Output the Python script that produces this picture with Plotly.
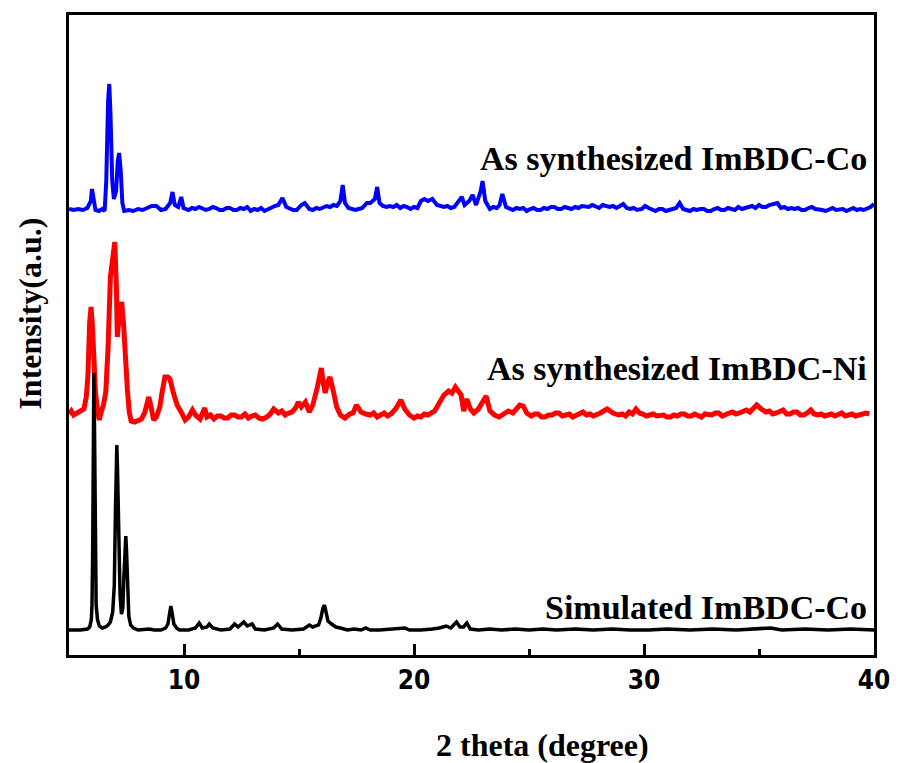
import plotly.graph_objects as go

# 2 theta (degree) sample points and intensities (a.u.) for each pattern
co_2theta = [5.0, 5.2, 5.4, 5.6, 5.8, 5.95, 6.0, 6.08, 6.15, 6.3, 6.45, 6.55, 6.62, 6.7, 6.75, 6.8,
             6.88, 6.95, 7.05, 7.12, 7.18, 7.25, 7.32, 7.4, 7.6, 7.8, 8.0, 8.2, 8.4, 8.6, 8.8, 9.0,
             9.2, 9.4, 9.5, 9.6, 9.75, 9.88, 9.98, 10.2, 10.35, 10.5, 10.65, 10.8, 10.95, 11.1,
             11.25, 11.4, 11.55, 11.7, 11.85, 12.0, 12.15, 12.3, 12.45, 12.6, 12.75, 12.9, 13.05,
             13.2, 13.35, 13.5, 13.65, 13.8, 13.95, 14.1, 14.28, 14.45, 14.6, 14.75, 14.9, 15.1,
             15.25, 15.45, 15.6, 15.75, 15.9, 16.05, 16.2, 16.35, 16.5, 16.65, 16.8, 16.9, 17.0,
             17.15, 17.3, 17.45, 17.6, 17.75, 17.95, 18.1, 18.3, 18.4, 18.5, 18.65, 18.8, 18.95,
             19.1, 19.25, 19.4, 19.55, 19.7, 19.85, 20.0, 20.15, 20.3, 20.45, 20.6, 20.8, 21.0,
             21.15, 21.3, 21.45, 21.6, 21.75, 21.9, 22.08, 22.2, 22.4, 22.55, 22.7, 22.9, 22.98,
             23.1, 23.3, 23.45, 23.6, 23.72, 23.84, 24.0, 24.15, 24.3, 24.45, 24.6, 24.75, 24.9,
             25.05, 25.2, 25.35, 25.5, 25.65, 25.8, 25.95, 26.1, 26.25, 26.4, 26.55, 26.7, 26.85,
             27.0, 27.15, 27.3, 27.45, 27.6, 27.75, 27.9, 28.05, 28.2, 28.35, 28.5, 28.65, 28.8,
             28.95, 29.1, 29.25, 29.4, 29.55, 29.7, 29.9, 30.05, 30.2, 30.35, 30.5, 30.65, 30.8,
             30.95, 31.1, 31.25, 31.4, 31.55, 31.7, 31.85, 32.0, 32.15, 32.3, 32.45, 32.6, 32.75,
             32.9, 33.05, 33.2, 33.35, 33.5, 33.65, 33.8, 33.95, 34.1, 34.25, 34.4, 34.55, 34.7,
             34.85, 35.0, 35.15, 35.3, 35.45, 35.6, 35.8, 35.95, 36.1, 36.25, 36.4, 36.55, 36.7,
             36.85, 37.0, 37.15, 37.3, 37.45, 37.6, 37.75, 37.9, 38.05, 38.2, 38.35, 38.5, 38.65,
             38.8, 38.95, 39.1, 39.25, 39.4, 39.55, 39.7, 39.85, 40.0]
co_int = [2, 1, 2, 1, 3, 10, 22, 8, 1, 0, 2, 0, 30, 110, 127, 100,
          30, 12, 20, 50, 58, 40, 8, 0, 1, 0, 2, 1, 3, 5, 5, 1,
          2, 8, 19, 6, 4, 14, 3, 1, 3, 2, 4, 3, 1, 2,
          4, 3, 1, 1, 3, 3, 1, 1, 3, 2, 4, 0, 2,
          1, 3, 0, 2, 3, 5, 6, 13, 4, 2, 1, 1, 6,
          8, 2, 1, 3, 2, 3, 5, 4, 6, 5, 10, 26, 8,
          3, 2, 1, 2, 3, 8, 8, 12, 24, 8, 5, 4, 5,
          4, 6, 3, 5, 4, 2, 4, 3, 10, 12, 10, 12, 6,
          5, 4, 5, 3, 4, 8, 14, 6, 10, 16, 6, 20, 30,
          10, 2, 4, 3, 6, 17, 4, 2, 1, 3, 2, 3, 0,
          2, 3, 1, 1, 3, 2, 4, 4, 2, 2, 4, 3, 2,
          4, 3, 5, 4, 4, 6, 5, 3, 6, 5, 4, 5, 3,
          5, 7, 3, 2, 3, 1, 2, 5, 3, 1, 0, 2, 2,
          0, 1, 3, 3, 8, 2, 1, 0, 2, 1, 2, 2, 0,
          0, 2, 3, 1, 1, 3, 2, 1, 4, 2, 3, 4, 5,
          3, 6, 4, 4, 6, 7, 8, 3, 4, 2, 3, 2, 3,
          1, 1, 3, 4, 2, 2, 1, 0, 2, 3, 1, 1, 2,
          0, 2, 3, 1, 2, 1, 2, 4, 7]

ni_2theta = [5.0, 5.1, 5.2, 5.35, 5.5, 5.65, 5.75, 5.82, 5.9, 5.96, 6.02, 6.08, 6.15, 6.25, 6.32,
             6.4, 6.5, 6.6, 6.7, 6.8, 6.92, 6.99, 7.06, 7.1, 7.18, 7.29, 7.38, 7.46, 7.54, 7.62,
             7.7, 7.85, 8.0, 8.15, 8.3, 8.4, 8.47, 8.55, 8.68, 8.8, 8.95, 9.05, 9.17, 9.3, 9.39,
             9.54, 9.7, 9.9, 10.05, 10.2, 10.37, 10.5, 10.6, 10.7, 10.9, 11.0, 11.15, 11.3, 11.45,
             11.6, 11.75, 11.9, 12.05, 12.2, 12.35, 12.5, 12.65, 12.8, 12.95, 13.1, 13.25, 13.4,
             13.6, 13.75, 13.9, 14.1, 14.25, 14.4, 14.55, 14.7, 14.85, 14.97, 15.1, 15.28, 15.45,
             15.6, 15.8, 15.97, 16.05, 16.14, 16.25, 16.35, 16.5, 16.64, 16.8, 17.0, 17.2, 17.35,
             17.5, 17.7, 17.9, 18.1, 18.25, 18.4, 18.55, 18.7, 18.85, 19.0, 19.2, 19.43, 19.6,
             19.8, 20.0, 20.15, 20.3, 20.45, 20.6, 20.75, 20.9, 21.1, 21.3, 21.5, 21.65, 21.8,
             21.95, 22.05, 22.16, 22.3, 22.45, 22.6, 22.8, 23.0, 23.14, 23.3, 23.5, 23.7, 23.9,
             24.1, 24.3, 24.5, 24.6, 24.75, 24.9, 25.1, 25.25, 25.4, 25.55, 25.7, 25.85, 26.0,
             26.15, 26.3, 26.45, 26.6, 26.75, 26.9, 27.05, 27.2, 27.35, 27.5, 27.65, 27.8,
             27.95, 28.1, 28.25, 28.4, 28.65, 28.9, 29.05, 29.2, 29.35, 29.5, 29.65, 29.8, 29.95,
             30.1, 30.25, 30.4, 30.55, 30.7, 30.85, 31.0, 31.15, 31.3, 31.45, 31.6, 31.75, 31.9,
             32.05, 32.2, 32.35, 32.5, 32.65, 32.8, 32.95, 33.1, 33.25, 33.4, 33.55, 33.7, 33.85,
             34.0, 34.15, 34.3, 34.45, 34.6, 34.75, 34.9, 35.1, 35.3, 35.45, 35.6, 35.75, 35.9,
             36.05, 36.2, 36.35, 36.5, 36.65, 36.8, 36.95, 37.1, 37.25, 37.4, 37.55, 37.7, 37.85,
             38.0, 38.15, 38.3, 38.45, 38.6, 38.75, 38.9, 39.05, 39.2, 39.35, 39.5, 39.65, 39.8,
             40.0]
ni_int = [3, 6, 2, 4, 6, 8, 20, 40, 95, 110, 90, 55, 25, 5, -3,
          5, 12, 25, 70, 140, 170, 175, 130, 80, 100, 115, 90, 50, 27, 5,
          -4, -5, -4, -2, 5, 15, 20, 12, -3, 0, 10, 25, 40, 40, 38,
          24, 12, 4, -3, 0, 7, 2, 0, -2, 9, 0, 2, -2, 1,
          1, -1, -1, 2, 2, 0, 0, 3, -1, 1, 2, -1, -2,
          0, 3, 8, 4, 6, 2, 4, 5, 9, 15, 10, 15, 5,
          12, 30, 49, 35, 24, 35, 40, 25, 10, 2, -1, 3, 4,
          12, 5, 3, 2, 4, 0, 2, 4, 1, 3, 8, 17, 8,
          2, -1, 1, 0, 3, 2, 4, 6, 14, 22, 26, 24, 30,
          25, 22, 6, 18, 8, 4, 8, 15, 21, 6, 2, 0, 3,
          6, 4, 10, 12, 11, 4, 1, 3, 3, 0, 0, 2, 2,
          4, 4, 1, 2, 3, 0, 2, 3, 5, 2, 3,
          1, 2, 4, 6, 8, 4, 2, 3, 1, 5, 3, 8, 4,
          3, 1, 2, 3, 1, 2, 2, 0, 0, 2, 1, 3, 3,
          1, 1, 3, 2, 0, 3, 2, 2, 4, 4, 1, 3, 4,
          5, 3, 4, 6, 7, 5, 9, 12, 8, 5, 6, 3, 4,
          6, 7, 3, 3, 5, 5, 2, 2, 4, 7, 3, 2, 3,
          1, 2, 3, 1, 2, 4, 1, 2, 3, 1, 2, 4, 4,
          3]

sim_2theta = [5.0, 5.5, 5.8, 5.9, 5.97, 6.0, 6.03, 6.06, 6.08, 6.11, 6.14, 6.18, 6.24, 6.32, 6.45,
              6.59, 6.7, 6.8, 6.9, 6.97, 7.02, 7.06, 7.08, 7.11, 7.16, 7.22, 7.28, 7.34, 7.39,
              7.44, 7.47, 7.5, 7.55, 7.6, 7.68, 7.8, 8.0, 8.3, 8.5, 8.7, 9.0, 9.2, 9.3, 9.37, 9.43,
              9.49, 9.56, 9.68, 9.8, 10.2, 10.5, 10.66, 10.8, 11.0, 11.1, 11.25, 11.6, 12.0, 12.2,
              12.35, 12.6, 12.75, 12.96, 13.1, 13.5, 13.9, 14.07, 14.25, 14.7, 15.2, 15.45, 15.6,
              15.85, 15.95, 16.04, 16.11, 16.18, 16.26, 16.42, 16.6, 16.8, 17.1, 17.4, 17.7, 17.9,
              18.1, 18.5, 19.0, 19.6, 19.8, 20.3, 20.8, 21.1, 21.4, 21.6, 21.85, 22.0, 22.15, 22.3,
              22.45, 22.8, 23.3, 23.8, 24.4, 25.0, 25.6, 26.2, 27.0, 27.8, 28.6, 29.4, 30.2, 31.0,
              32.0, 33.0, 34.0, 35.0, 35.5, 36.0, 37.0, 38.0, 39.0, 40.0]
sim_int = [0, 0, 1, 3, 10, 25, 80, 200, 257, 200, 80, 25, 10, 4, 2,
           3, 5, 8, 18, 45, 120, 180, 185, 160, 80, 35, 16, 22, 55,
           85, 94, 80, 35, 14, 5, 2, 0, 1, 1, 0, 0, 2, 6, 16, 24,
           16, 6, 2, 0, 0, 2, 7, 2, 3, 6, 2, 0, 1, 6,
           3, 8, 4, 6, 1, 0, 2, 6, 1, 0, 1, 5, 3,
           5, 12, 22, 25, 18, 9, 6, 3, 2, 0, 1, 0, 2,
           0, 0, 1, 2, 0, 0, 1, 2, 4, 2, 8, 3, 3, 7,
           1, 0, 1, 0, 1, 0, 1, 0, 1, 0, 1, 0, 0, 1,
           0, 1, 0, 1, 2, 0, 1, 0, 1, 0]

# vertical stacking of the three patterns
co_offset = 444
ni_offset = 238
sim_offset = 25

serif = "Liberation Serif, Times New Roman, serif"

fig = go.Figure()
fig.add_trace(go.Scatter(x=co_2theta, y=[v + co_offset for v in co_int], mode="lines",
                         line=dict(color="#0000ff", width=4), name="As synthesized ImBDC-Co"))
fig.add_trace(go.Scatter(x=ni_2theta, y=[v + ni_offset for v in ni_int], mode="lines",
                         line=dict(color="#ff0000", width=5), name="As synthesized ImBDC-Ni"))
fig.add_trace(go.Scatter(x=sim_2theta, y=[v + sim_offset for v in sim_int], mode="lines",
                         line=dict(color="#000000", width=3.5), name="Simulated ImBDC-Co"))

labels = [("As synthesized ImBDC-Co", 497), ("As synthesized ImBDC-Ni", 287),
          ("Simulated ImBDC-Co", 48)]
for text, ypos in labels:
    fig.add_annotation(text=f"<b>{text}</b>", xref="paper", x=0.994, xanchor="right",
                       yref="y", y=ypos, yanchor="middle", showarrow=False,
                       font=dict(family=serif, size=34, color="black"))

fig.add_annotation(text="<b>Intensity(a.u.)</b>", xref="paper", x=-0.048, xanchor="center",
                   yref="paper", y=0.534, yanchor="middle", textangle=-90, showarrow=False,
                   font=dict(family=serif, size=32, color="black"))
fig.add_annotation(text="<b>2 theta (degree)</b>", xref="paper", x=0.588, xanchor="center",
                   yref="paper", y=-0.14, yanchor="middle", showarrow=False,
                   font=dict(family=serif, size=32, color="black"))

fig.update_layout(
    width=902, height=763,
    margin=dict(l=69, r=21, t=15, b=108),
    paper_bgcolor="white", plot_bgcolor="white",
    showlegend=False,
    xaxis=dict(range=[5, 40], tick0=0, dtick=10, ticks="inside", ticklen=11, tickwidth=3,
               tickcolor="black", showline=True, linewidth=3, linecolor="black", mirror=True,
               showgrid=False, zeroline=False, ticklabeloverflow="allow",
               tickfont=dict(family="DejaVu Sans Condensed, Liberation Sans Narrow, Liberation Sans",
                             size=26, color="black", weight="bold"),
               minor=dict(dtick=5, ticks="inside", ticklen=6, tickwidth=3, tickcolor="black",
                          showgrid=False)),
    yaxis=dict(range=[0, 640], showticklabels=False, ticks="", showline=True, linewidth=3,
               linecolor="black", mirror=True, showgrid=False, zeroline=False),
)

fig.write_html("out.html")
